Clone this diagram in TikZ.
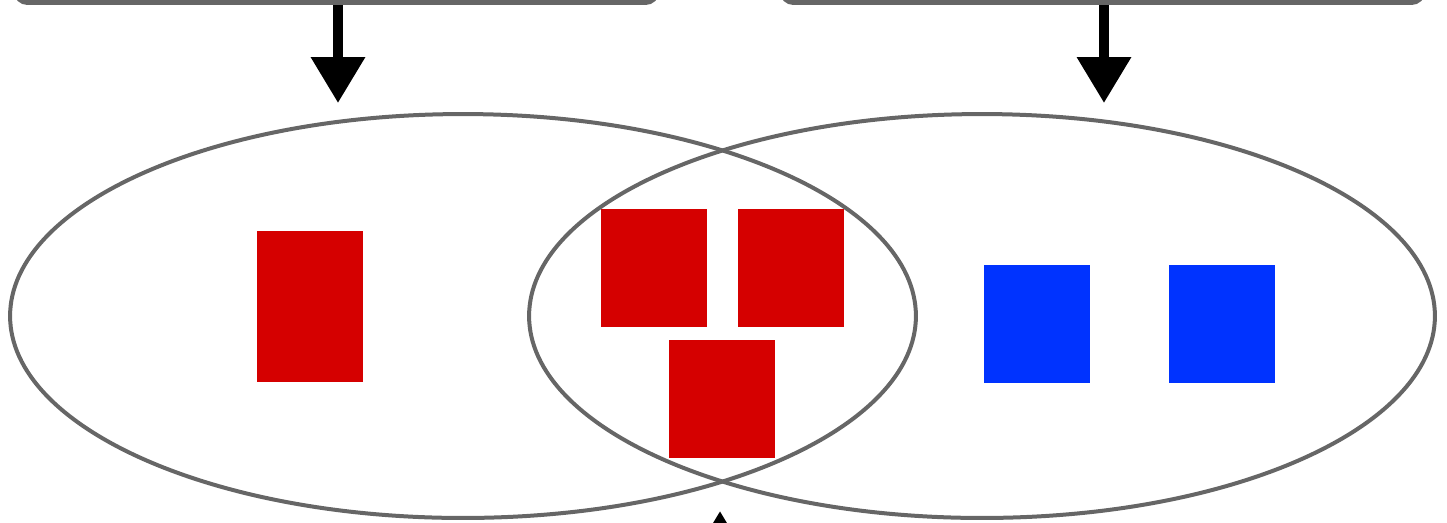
\documentclass[tikz,border=0pt]{standalone}
\usepackage{tikz}
\usetikzlibrary{arrows.meta,positioning,shapes.geometric}
\definecolor{setgray}{RGB}{102,102,102}
\definecolor{itemred}{RGB}{213,0,0}
\definecolor{itemblue}{RGB}{0,51,255}

\begin{document}
\begin{tikzpicture}[
  x=0.02cm, y=-0.02cm,
  topbox/.style={draw=setgray, line width=1.4mm, rounded corners=6pt,
                 minimum width=12.78cm, minimum height=1.6cm, inner sep=0pt},
  setell/.style={draw=setgray, ellipse, line width=0.8mm, inner sep=0pt,
                 minimum width=18.12cm, minimum height=8.08cm},
  redsq/.style={fill=itemred, inner sep=0pt, minimum width=2.12cm, minimum height=2.36cm},
  bluesq/.style={fill=itemblue, inner sep=0pt, minimum width=2.12cm, minimum height=2.36cm},
  arr/.style={-{Triangle[length=0.92cm, width=1.04cm]}, line width=0.2cm}
]
\clip (0,0) rectangle (1447,522);

%% Two source boxes (cut by the top edge)
\node[topbox] (srcL) at (336.5,-38.5) {};
\node[topbox] (srcR) at (1102.5,-38.5) {};

%% The two overlapping sets
\node[setell] (setL) at (463,316) {};
\node[setell] (setR) at (982,316) {};

%% Items only in the left set
\node[redsq, minimum height=3.02cm] (onlyL) at (310,306.5) {};

%% Items in both sets
\node[redsq] (bothA) at (654,268) {};
\node[redsq] (bothB) at (791,268) {};
\node[redsq] (bothC) at (722,399) {};

%% Items only in the right set
\node[bluesq] (onlyRa) at (1037,324) {};
\node[bluesq] (onlyRb) at (1222,324) {};

%% Arrows
\coordinate (inL) at (338,103);
\coordinate (inR) at (1104,103);
\coordinate (upfrom) at (720,600);
\coordinate (upto) at (720,511);
\draw[arr] (srcL.south -| inL) -- (inL);
\draw[arr] (srcR.south -| inR) -- (inR);
\draw[arr] (upfrom) -- (upto);
\end{tikzpicture}
\end{document}
